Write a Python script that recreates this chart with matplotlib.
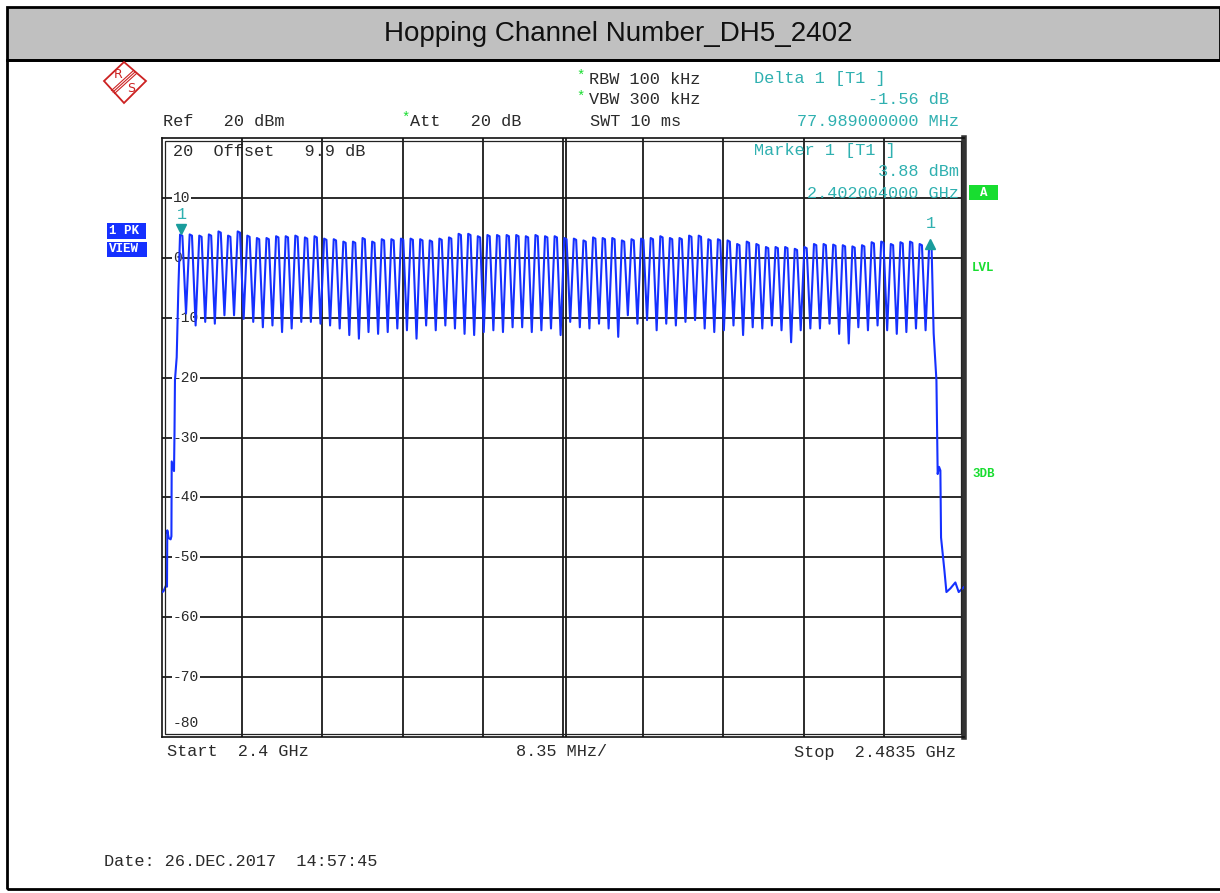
import numpy as np
import matplotlib
matplotlib.use('Agg')
import matplotlib.pyplot as plt
from matplotlib.patches import Rectangle, Polygon
from matplotlib.lines import Line2D
from matplotlib import transforms

# ============================================
# Data
# ============================================

start_mhz = 2400.0
stop_mhz = 2483.5
mhz_per_div = 8.35
ref_dbm = 20
bottom_dbm = -80
level_ticks = [20, 10, 0, -10, -20, -30, -40, -50, -60, -70, -80]

# 79 hopping channels, 1 MHz spacing
channel_mhz = np.arange(2402, 2481)

# top of each channel hump (dBm)
peak_dbm = [3.88, 3.9, 3.7, 3.9, 4.4, 3.7, 4.4, 3.7, 3.3, 3.3,
            3.6, 3.6, 3.7, 3.4, 3.6, 3.2, 3.1, 2.7, 2.7,
            3.3, 2.7, 3.1, 3.1, 3.2, 3.2, 3.1, 2.9, 3.2, 3.4,
            4.0, 4.0, 3.6, 3.8, 3.8, 3.8, 3.8, 3.6, 3.8, 3.6,
            3.6, 3.3, 3.2, 2.9, 3.4, 3.3, 3.3, 2.9, 3.1, 3.2,
            3.3, 3.6, 3.3, 3.3, 3.7, 3.7, 3.1, 3.1, 2.9, 2.3,
            2.7, 2.3, 1.8, 1.8, 1.8, 1.5, 1.8, 2.3, 2.3, 2.2,
            2.1, 1.9, 2.1, 2.6, 2.7, 2.3, 2.6, 2.7, 2.3, 2.32]

# valley between neighbouring channels (dBm)
dip_dbm = [-9.3, -11.3, -10.7, -11.0, -9.6, -9.6, -10.2, -10.7, -11.6, -11.3,
           -12.4, -11.8, -10.7, -10.7, -11.0, -11.3, -11.8, -12.9, -13.5,
           -12.4, -12.7, -12.4, -11.8, -12.1, -13.5, -11.3, -12.1, -11.3, -11.8,
           -12.7, -12.9, -12.4, -12.1, -12.4, -11.6, -11.6, -12.4, -12.1, -11.8,
           -12.9, -10.7, -11.6, -11.8, -11.0, -11.8, -13.2, -9.6, -11.0, -10.4,
           -12.1, -11.0, -11.3, -10.7, -10.4, -11.8, -12.4, -12.1, -11.3, -12.9,
           -11.6, -11.8, -11.3, -12.1, -14.1, -12.1, -11.8, -11.8, -11.0, -12.7,
           -14.3, -11.6, -12.1, -11.3, -12.1, -12.7, -12.4, -11.8, -12.1]

# band edges
left_skirt_mhz = [2400.02, 2400.14, 2400.42, 2400.52, 2400.55, 2400.7, 2400.9,
                  2400.98, 2401.01, 2401.25, 2401.3, 2401.35, 2401.53, 2401.7]
left_skirt_dbm = [-55.8, -55.7, -54.7, -54.9, -45.5, -46.8, -47.0,
                  -46.5, -34.0, -35.6, -29.4, -20.4, -16.6, -5.3]
right_skirt_mhz = [2480.34, 2480.63, 2480.76, 2480.9, 2481.04, 2481.11, 2481.46,
                   2481.67, 2482.08, 2482.6, 2482.95, 2483.47]
right_skirt_dbm = [-12.6, -20.5, -36.1, -34.9, -35.5, -46.7, -52.2,
                   -55.8, -55.2, -54.2, -55.8, -55.0]

# markers
marker1_mhz = 2402.004
marker1_dbm = 3.88
delta1_mhz = 77.989
delta1_db = -1.56

# ============================================
# Build the trace (hump top per channel, valley in between)
# ============================================

trace_f = list(left_skirt_mhz)
trace_l = list(left_skirt_dbm)
for i, f in enumerate(channel_mhz):
    trace_f += [f - 0.12, f + 0.12]
    trace_l += [peak_dbm[i], peak_dbm[i] - 0.2]
    if i < len(dip_dbm):
        trace_f.append(f + 0.5)
        trace_l.append(dip_dbm[i])
trace_f += right_skirt_mhz
trace_l += right_skirt_dbm

# ============================================
# Figure
# ============================================

W, H = 1220, 893
def fx(x):
    return x / W
def fy(y):
    return 1 - y / H

mono = 'Liberation Mono'
teal = '#2fb0b0'
green = '#18dd30'
blue = '#1530ff'
txt = '#2a2a2a'

fig = plt.figure(figsize=(W / 100, H / 100), dpi=100)
fig.patch.set_facecolor('white')

# title bar and outer frame
fig.patches.append(Rectangle((fx(7), fy(60)), fx(1220) - fx(7), fy(7) - fy(60),
                             transform=fig.transFigure, facecolor='#c0c0c0',
                             edgecolor='black', lw=2, zorder=0))
fig.patches.append(Rectangle((fx(7), fy(889)), fx(1225) - fx(7), fy(60) - fy(889),
                             transform=fig.transFigure, facecolor='none',
                             edgecolor='black', lw=2, zorder=0))
fig.text(fx(618), fy(34), 'Hopping Channel Number_DH5_2402', ha='center', va='center',
         fontsize=20, family='Liberation Sans', color='#111')

# R&S logo
red = '#cc2222'
fig.patches.append(Polygon([(fx(124), fy(62)), (fx(146), fy(81)), (fx(124), fy(103)),
                            (fx(104), fy(81))], closed=True, transform=fig.transFigure,
                           facecolor='white', edgecolor=red, lw=1.3))
for d in (-1.5, 0, 1.5):
    fig.lines.append(Line2D([fx(113 + d), fx(135 + d)], [fy(92 + d), fy(72 + d)],
                            transform=fig.transFigure, color=red, lw=0.8))
fig.text(fx(118), fy(75), 'R', color=red, fontsize=9, ha='center', va='center', family='DejaVu Sans')
fig.text(fx(131), fy(88), 'S', color=red, fontsize=9, ha='center', va='center', family='DejaVu Sans')

# header lines
fs = 12.2
fig.text(fx(163), fy(121), 'Ref   20 dBm', family=mono, fontsize=fs, color=txt, va='center')
fig.text(fx(401), fy(118), '*', family=mono, fontsize=10, color=green, va='center')
fig.text(fx(410), fy(121), 'Att   20 dB', family=mono, fontsize=fs, color=txt, va='center')
fig.text(fx(590), fy(121), 'SWT 10 ms', family=mono, fontsize=fs, color=txt, va='center')
fig.text(fx(576), fy(76), '*', family=mono, fontsize=10, color=green, va='center')
fig.text(fx(589), fy(79), 'RBW 100 kHz', family=mono, fontsize=fs, color=txt, va='center')
fig.text(fx(576), fy(97), '*', family=mono, fontsize=10, color=green, va='center')
fig.text(fx(589), fy(100), 'VBW 300 kHz', family=mono, fontsize=fs, color=txt, va='center')
fig.text(fx(754), fy(79), 'Delta 1 [T1 ]', family=mono, fontsize=fs, color=teal, va='center')
fig.text(fx(949), fy(100), f'{delta1_db:.2f} dB', family=mono, fontsize=fs, color=teal,
         va='center', ha='right')
fig.text(fx(959), fy(121), f'{delta1_mhz:.9f} MHz', family=mono, fontsize=fs, color=teal,
         va='center', ha='right')
fig.text(fx(754), fy(150), 'Marker 1 [T1 ]', family=mono, fontsize=fs, color=teal, va='center', zorder=5)
fig.text(fx(959), fy(172), f'{marker1_dbm:.2f} dBm', family=mono, fontsize=fs, color=teal,
         va='center', ha='right', zorder=5)
fig.text(fx(959), fy(193), f'{marker1_mhz / 1000:.9f} GHz', family=mono, fontsize=fs, color=teal,
         va='center', ha='right', zorder=5)

# side labels
bold_kw = dict(fontsize=9, weight='bold', family=mono)
fig.patches.append(Rectangle((fx(969), fy(200)), fx(998) - fx(969), fy(185) - fy(200),
                             transform=fig.transFigure, facecolor=green, edgecolor='none'))
fig.text(fx(983.5), fy(192.5), 'A', color='white', ha='center', va='center', **bold_kw)
fig.text(fx(972), fy(268), 'LVL', color=green, va='center', **bold_kw)
fig.text(fx(972), fy(474), '3DB', color=green, va='center', **bold_kw)
for (y0, y1, s, x1) in [(223, 239, '1 PK', 146), (242, 257, 'VIEW', 147)]:
    fig.patches.append(Rectangle((fx(107), fy(y1)), fx(x1) - fx(107), fy(y0) - fy(y1),
                                 transform=fig.transFigure, facecolor=blue, edgecolor='none'))
    fig.text(fx(109), fy((y0 + y1) / 2), s, color='white', va='center', **bold_kw)

# footer
fig.text(fx(167), fy(752), f'Start  {start_mhz / 1000:g} GHz', family=mono, fontsize=fs, color=txt, va='center')
fig.text(fx(516), fy(752), f'{mhz_per_div:.2f} MHz/', family=mono, fontsize=fs, color=txt, va='center')
fig.text(fx(956), fy(752), f'Stop  {stop_mhz / 1000:g} GHz', family=mono, fontsize=fs, color=txt,
         va='center', ha='right')
fig.text(fx(104), fy(861), 'Date: 26.DEC.2017  14:57:45', family=mono, fontsize=fs, color=txt, va='center')

# ============================================
# Plot area
# ============================================

ax = fig.add_axes([fx(162), fy(737), (964 - 162) / W, (737 - 138) / H])
ax.set_xlim(start_mhz, stop_mhz)
ax.set_ylim(bottom_dbm, ref_dbm)
ax.set_xticks([])
ax.set_yticks([])
for s in ax.spines.values():
    s.set_linewidth(1.2)
    s.set_color('#111')
ax.spines['right'].set_linewidth(4)
ax.spines['right'].set_color('#333')

# inner frame line (double border look)
ax.add_patch(Rectangle((0.0035, 0.005), 0.993, 0.99, transform=ax.transAxes,
                       facecolor='none', edgecolor='#222', lw=0.9, zorder=4))

grid_kw = dict(color='#1a1a1a', lw=1.3, zorder=1)
for i in range(1, 10):
    ax.axvline(start_mhz + i * mhz_per_div, **grid_kw)
center_off = transforms.offset_copy(ax.get_xaxis_transform(), fig=fig, x=3, units='dots')
ax.plot([start_mhz + 5 * mhz_per_div] * 2, [0, 1], transform=center_off, **grid_kw)
for lvl in level_ticks[1:-1]:
    ax.axhline(lvl, **grid_kw)

# level labels inside the grid
lab_tr = transforms.blended_transform_factory(ax.transAxes, ax.transData)
for lvl in level_ticks[1:]:
    y = lvl if lvl > bottom_dbm else lvl + 2.3
    ax.text(0.0135, y, f'{lvl}', transform=lab_tr, family=mono, fontsize=10.5, color=txt,
            va='center', ha='left', zorder=2,
            bbox=dict(facecolor='white', edgecolor='none', pad=0.6))
ax.text(0.0135, 17.7, '20  Offset   9.9 dB', transform=lab_tr, family=mono, fontsize=fs,
        color=txt, va='center', ha='left', zorder=0.5)

# trace
ax.plot(trace_f, trace_l, color=blue, lw=1.5, zorder=3)

# markers
m_kw = dict(color='#199c9c', markersize=7, zorder=5, clip_on=False)
up6 = transforms.offset_copy(ax.transData, fig=fig, x=0, y=6, units='dots')
ax.plot([marker1_mhz], [marker1_dbm], marker='v', transform=up6, **m_kw)
ax.annotate('1', xy=(marker1_mhz, marker1_dbm), xytext=(1, 20), textcoords='offset pixels',
            family=mono, fontsize=fs, color=teal, ha='center', va='center')
d_mhz = marker1_mhz + delta1_mhz
d_dbm = marker1_dbm + delta1_db
ax.plot([d_mhz], [d_dbm], marker='^', **m_kw)
ax.annotate('1', xy=(d_mhz, d_dbm), xytext=(1, 20), textcoords='offset pixels',
            family=mono, fontsize=fs, color=teal, ha='center', va='center')

fig.savefig('out.png', dpi=100)
